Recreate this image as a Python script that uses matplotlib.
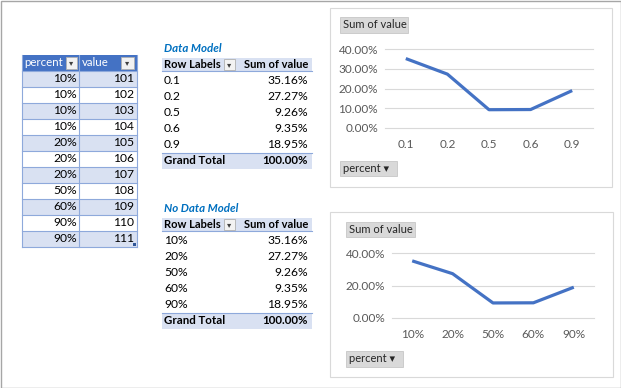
import matplotlib
matplotlib.use("Agg")
import matplotlib.pyplot as plt
from matplotlib.patches import Rectangle

# ---- data ----
src_percent = ['10%', '10%', '10%', '10%', '20%', '20%', '20%', '50%', '60%', '90%', '90%']
src_value = [101, 102, 103, 104, 105, 106, 107, 108, 109, 110, 111]

dm_labels = ['0.1', '0.2', '0.5', '0.6', '0.9']
ndm_labels = ['10%', '20%', '50%', '60%', '90%']
sum_share = [35.16, 27.27, 9.26, 9.35, 18.95]
grand_total = 100.00

W, H = 621, 388
FONT = ['Lato', 'DejaVu Sans']
plt.rcParams['font.family'] = FONT

BLUE = '#4472C4'
BAND = '#D9E1F2'
EDGE = '#8EA9DB'
GRID = '#D9D9D9'
AXTXT = '#595959'

fig = plt.figure(figsize=(W / 100, H / 100), dpi=100)
bg = fig.add_axes([0, 0, 1, 1])
bg.set_xlim(0, W)
bg.set_ylim(H, 0)
bg.axis('off')


def rect(x0, y0, x1, y1, fc, ec='none', lw=0.8, z=1):
    bg.add_patch(Rectangle((x0, y0), x1 - x0, y1 - y0, facecolor=fc,
                           edgecolor=ec, linewidth=lw, zorder=z))


def txt(x, y, s, ha='left', size=8.7, color='black', weight='normal', style='normal'):
    bg.text(x, y, s, ha=ha, va='center', fontsize=size, color=color,
            weight=weight, style=style, zorder=5)


def hline(x0, x1, y, color=EDGE, lw=0.8):
    bg.plot([x0, x1], [y, y], color=color, lw=lw, zorder=3)


def filter_btn(x0, y0, x1, y1):
    rect(x0, y0, x1, y1, '#F2F2F2', '#B0B0B0', 0.6, z=4)
    txt((x0 + x1) / 2, (y0 + y1) / 2, '\u25BE', ha='center', size=6, color='#404040')


# outer frame
rect(0.5, 0.5, W - 0.5, H - 0.5, 'white', '#A6A6A6', 1.0, z=0)

# ---- source table ----
tx0, tx1, tmid = 22, 137, 79
rect(tx0, 55, tx1, 71, BLUE, z=2)
txt(24, 63, 'percent', color='white', size=8.3)
txt(82, 63, 'value', color='white', size=8.3)
filter_btn(66, 57, 77, 69)
filter_btn(121, 57, 134, 69)
for i, (p, v) in enumerate(zip(src_percent, src_value)):
    y0 = 71 + 16 * i
    if i % 2 == 0:
        rect(tx0, y0, tx1, y0 + 16, BAND, z=1)
    hline(tx0, tx1, y0)
    txt(77, y0 + 8, p, ha='right')
    txt(134, y0 + 8, str(v), ha='right')
hline(tx0, tx1, 247)
bg.plot([tx0, tx0], [55, 247], color=EDGE, lw=0.8, zorder=3)
bg.plot([tx1, tx1], [55, 247], color=EDGE, lw=0.8, zorder=3)
bg.plot([tmid, tmid], [55, 247], color=EDGE, lw=0.8, zorder=3)
rect(133, 243, 136, 246, '#2F5597', z=4)


# ---- pivot tables ----
def pivot(top, title, labels):
    txt(164, top - 11, title, color='#0070C0', weight='bold', style='italic', size=8.3)
    rect(162, top - 1, 312, top + 12, BAND, z=1)
    hline(162, 312, top + 12)
    txt(164, top + 5.5, 'Row Labels', weight='bold', size=8.0)
    filter_btn(224, top, 235, top + 11)
    txt(308, top + 5.5, 'Sum of value', ha='right', weight='bold', size=8.0)
    for i, (lab, val) in enumerate(zip(labels, sum_share)):
        y = top + 22 + 15.9 * i
        txt(164, y, lab)
        txt(308, y, '%.2f%%' % val, ha='right')
    gy = top + 101.5
    rect(162, gy - 8, 312, gy + 8, BAND, z=1)
    hline(162, 312, gy - 8)
    txt(164, gy, 'Grand Total', weight='bold', size=8.3)
    txt(308, gy, '%.2f%%' % grand_total, ha='right', weight='bold', size=8.3)


pivot(59, 'Data Model', dm_labels)
pivot(219, 'No Data Model', ndm_labels)


# ---- pivot charts ----
def frac(x0, y0, x1, y1):
    return [x0 / W, 1 - y1 / H, (x1 - x0) / W, (y1 - y0) / H]


def gray_btn(x0, y0, x1, y1, s):
    rect(x0, y0, x1, y1, '#D9D9D9', '#BFBFBF', 0.5, z=2)
    txt(x0 + 3, (y0 + y1) / 2, s, size=8.0, color='#262626')


def chart(box, plot_box, labels, yticks, ytl, sov_btn, pct_btn):
    rect(*box, 'white', '#D9D9D9', 0.8, z=1)
    gray_btn(*sov_btn, 'Sum of value')
    gray_btn(*pct_btn, 'percent \u25BE')
    ax = fig.add_axes(frac(*plot_box))
    ax.patch.set_alpha(0)
    x = list(range(len(labels)))
    ax.plot(x, [v / 100 for v in sum_share], color=BLUE, lw=2.3,
            solid_capstyle='butt', zorder=3)
    ax.set_xlim(-0.5, len(labels) - 0.5)
    ax.set_ylim(0, 0.4)
    ax.set_yticks(yticks)
    ax.set_yticklabels(ytl)
    ax.set_xticks(x)
    ax.set_xticklabels(labels)
    for t in yticks:
        ax.axhline(t, color=GRID, lw=0.8, zorder=1, clip_on=False)
    for s in ax.spines.values():
        s.set_visible(False)
    ax.tick_params(length=0, labelsize=8.5, labelcolor=AXTXT)
    ax.tick_params(axis='x', pad=8)
    ax.tick_params(axis='y', pad=5)


chart((330, 8, 612, 187), (385, 49, 593, 128), dm_labels,
      [0, 0.1, 0.2, 0.3, 0.4], ['0.00%', '10.00%', '20.00%', '30.00%', '40.00%'],
      (340, 17, 408, 33), (340, 161, 397, 176))
chart((330, 212, 613, 377), (392, 253, 594, 318), ndm_labels,
      [0, 0.2, 0.4], ['0.00%', '20.00%', '40.00%'],
      (346, 222, 415, 237), (346, 351, 403, 367))

fig.savefig('out.png', dpi=100)
